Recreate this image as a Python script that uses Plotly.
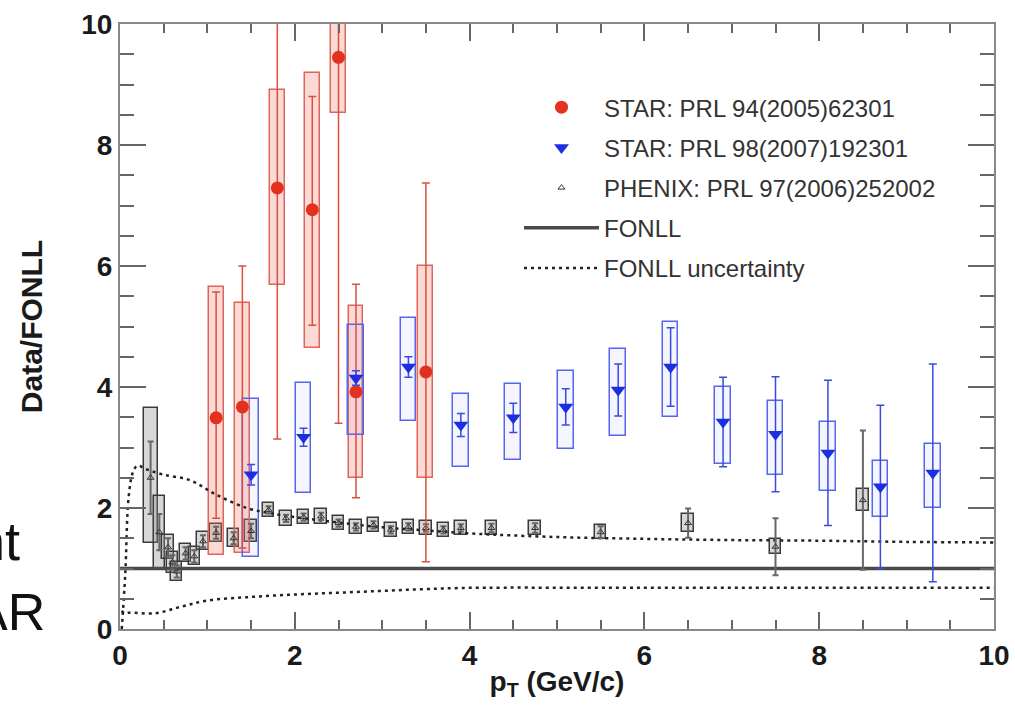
import plotly.graph_objects as go

# ---------------- data ----------------
# STAR PRL 94 (2005) 62301
star05_pt = [1.1, 1.4, 1.8, 2.2, 2.5, 2.7, 3.5]
star05_r = [3.49, 3.67, 7.29, 6.93, 9.45, 3.92, 4.25]
star05_stat_hi = [2.08, 2.33, 4.20, 1.87, 6.00, 1.78, 3.12]
star05_stat_lo = [1.66, 2.33, 4.15, 1.91, 6.05, 1.75, 3.14]
star05_sys_hi = [2.16, 1.72, 1.62, 2.26, 0.92, 1.42, 1.75]
star05_sys_lo = [2.27, 2.42, 1.60, 2.29, 0.92, 1.42, 1.75]

# STAR PRL 98 (2007) 192301
star07_pt = [1.5, 2.1, 2.7, 3.3, 3.9, 4.5, 5.1, 5.7, 6.3, 6.9, 7.5, 8.1, 8.7, 9.3]
star07_r = [2.55, 3.17, 4.15, 4.33, 3.37, 3.49, 3.67, 3.95, 4.33, 3.42, 3.22, 2.91, 2.35, 2.58]
star07_stat = [0.17, 0.15, 0.12, 0.17, 0.19, 0.24, 0.30, 0.43, 0.65, 0.74, 0.95, 1.20, 1.35, 1.80]
star07_sys_hi = [1.25, 0.90, 0.87, 0.81, 0.51, 0.56, 0.60, 0.67, 0.74, 0.58, 0.55, 0.51, 0.43, 0.48]
star07_sys_lo = [1.36, 0.92, 0.94, 0.89, 0.69, 0.70, 0.70, 0.76, 0.83, 0.69, 0.67, 0.63, 0.50, 0.58]

# PHENIX PRL 97 (2006) 252002
phenix_pt = [0.35, 0.45, 0.55, 0.6, 0.65, 0.75, 0.85, 0.95, 1.1, 1.3, 1.5, 1.7, 1.9, 2.1, 2.3,
             2.5, 2.7, 2.9, 3.1, 3.3, 3.5, 3.7, 3.9, 4.25, 4.75, 5.5, 6.5, 7.5, 8.5]
phenix_r = [2.5, 1.6, 1.35, 1.1, 0.95, 1.25, 1.2, 1.45, 1.59, 1.5, 1.62, 1.97, 1.83, 1.85, 1.86,
            1.75, 1.69, 1.72, 1.64, 1.69, 1.67, 1.64, 1.67, 1.67, 1.67, 1.6, 1.75, 1.36, 2.13]
phenix_stat = [0.6, 0.3, 0.15, 0.12, 0.1, 0.1, 0.1, 0.1, 0.1, 0.1, 0.12, 0.06, 0.06, 0.06, 0.06,
               0.06, 0.06, 0.06, 0.06, 0.06, 0.06, 0.06, 0.06, 0.07, 0.08, 0.1, 0.24, 0.47, 1.15]
phenix_sys_hi = [1.15, 0.6, 0.2, 0.18, 0.15, 0.15, 0.15, 0.15, 0.15, 0.15, 0.18, 0.12, 0.12, 0.12, 0.12,
                 0.12, 0.12, 0.12, 0.12, 0.12, 0.12, 0.12, 0.12, 0.12, 0.12, 0.12, 0.15, 0.12, 0.18]
phenix_sys_lo = [1.08, 0.6, 0.2, 0.18, 0.15, 0.15, 0.15, 0.15, 0.15, 0.15, 0.18, 0.12, 0.12, 0.12, 0.12,
                 0.12, 0.12, 0.12, 0.12, 0.12, 0.12, 0.12, 0.12, 0.12, 0.12, 0.12, 0.15, 0.12, 0.18]

# FONLL central and uncertainty band
fonll_pt = [0.0, 10.0]
fonll_r = [1.0, 1.0]
fonll_up_pt = [0.02, 0.06, 0.1, 0.15, 0.2, 0.3, 0.5, 0.8, 1.1, 1.45, 1.7, 2.0, 2.5, 3.0, 3.5,
               4.0, 5.0, 6.0, 7.0, 8.0, 9.0, 10.0]
fonll_up_r = [0.0, 0.9, 2.2, 2.6, 2.7, 2.64, 2.55, 2.46, 2.22, 2.0, 1.92, 1.85, 1.76, 1.68, 1.63,
              1.58, 1.52, 1.49, 1.47, 1.46, 1.44, 1.43]
fonll_lo_pt = [0.02, 0.05, 0.1, 0.4, 0.7, 1.0, 1.5, 2.0, 2.5, 3.0, 3.5, 4.0, 6.0, 8.0, 10.0]
fonll_lo_r = [0.3, 0.26, 0.27, 0.26, 0.37, 0.47, 0.53, 0.57, 0.6, 0.63, 0.66, 0.68, 0.68, 0.68, 0.68]

x_ticks = [0, 2, 4, 6, 8, 10]
y_ticks = [0, 2, 4, 6, 8, 10]

# ---------------- figure ----------------
FONT = "Liberation Sans, Arial, sans-serif"
fig = go.Figure()


def sys_boxes(pt, r, hi, lo, width, fill, line, group):
    base = [v - l for v, l in zip(r, lo)]
    height = [h + l for h, l in zip(hi, lo)]
    fig.add_trace(go.Bar(x=pt, y=height, base=base, width=width,
                         marker=dict(color=fill, line=dict(color=line, width=1.5)),
                         showlegend=False, legendgroup=group, hoverinfo="skip"))


sys_boxes(phenix_pt, phenix_r, phenix_sys_hi, phenix_sys_lo,
          [0.16 if i == 0 else 0.13 for i in range(len(phenix_pt))],
          "rgba(140,140,140,0.35)", "#3a3a3a", "g3")
sys_boxes(star05_pt, star05_r, star05_sys_hi, star05_sys_lo, 0.17,
          "rgba(240,120,105,0.28)", "#e0645a", "g1")
sys_boxes(star07_pt, star07_r, star07_sys_hi, star07_sys_lo, 0.18,
          "rgba(110,125,255,0.08)", "#5566ee", "g2")

# FONLL curves
fig.add_trace(go.Scatter(x=fonll_pt, y=fonll_r, mode="lines", name="FONLL",
                         line=dict(color="#4a4a4a", width=3.5), legendgroup="g4", legendrank=4))
fig.add_trace(go.Scatter(x=fonll_up_pt, y=fonll_up_r, mode="lines", name="FONLL uncertainty",
                         line=dict(color="#222", width=2.5, dash="3px,4px", shape="spline"),
                         legendgroup="g5", legendrank=5))
fig.add_trace(go.Scatter(x=fonll_lo_pt, y=fonll_lo_r, mode="lines", name="FONLL uncertainty",
                         line=dict(color="#222", width=2.5, dash="3px,4px", shape="spline"),
                         legendgroup="g5", showlegend=False, legendrank=5))

# data points
fig.add_trace(go.Scatter(
    x=phenix_pt, y=phenix_r, mode="markers", name="PHENIX: PRL 97(2006)252002",
    marker=dict(symbol="triangle-up-open", size=6, color="#333", line=dict(width=1)),
    error_y=dict(type="data", array=phenix_stat, color="#666", thickness=2, width=3),
    legendgroup="g3", legendrank=3))
fig.add_trace(go.Scatter(
    x=star05_pt, y=star05_r, mode="markers", name="STAR: PRL 94(2005)62301",
    marker=dict(symbol="circle", size=13, color="#e2321e"),
    error_y=dict(type="data", symmetric=False, array=star05_stat_hi, arrayminus=star05_stat_lo,
                 color="#d9503f", thickness=1.5, width=4),
    legendgroup="g1", legendrank=1))
fig.add_trace(go.Scatter(
    x=star07_pt, y=star07_r, mode="markers", name="STAR: PRL 98(2007)192301",
    marker=dict(symbol="triangle-down", size=13, color="#1b2fe0"),
    error_y=dict(type="data", array=star07_stat, color="#3a4ae0", thickness=1.5, width=4),
    legendgroup="g2", legendrank=2))

tick_font = dict(family=FONT, size=28, color="#1a1a1a", weight="bold")
axis_common = dict(range=[0, 10], showgrid=False, zeroline=False, showline=True,
                   linecolor="#888", linewidth=2, mirror="ticks", ticks="inside",
                   tickwidth=2, tickcolor="#666", tickfont=tick_font)

fig.update_layout(
    width=1015, height=705,
    margin=dict(l=120, r=21, t=24, b=76, autoexpand=False),
    paper_bgcolor="white", plot_bgcolor="white",
    barmode="overlay", bargap=0,
    font=dict(family=FONT, color="#222"),
    xaxis=dict(**axis_common, tickvals=x_ticks, ticklen=17,
               minor=dict(dtick=0.5, ticklen=9, tickwidth=2, tickcolor="#666", ticks="inside"),
               title=dict(text="p<sub>T</sub> (GeV/c)", standoff=2,
                          font=dict(family=FONT, size=28, color="#1a1a1a", weight="bold"))),
    yaxis=dict(**axis_common, tickvals=y_ticks, ticklen=26,
               minor=dict(dtick=0.5, ticklen=14, tickwidth=2, tickcolor="#666", ticks="inside"),
               title=dict(text="Data/FONLL", standoff=30,
                          font=dict(family=FONT, size=30, color="#1a1a1a", weight="bold"))),
    legend=dict(x=(519 - 120) / 874, xanchor="left", y=0.899, yanchor="top",
                bgcolor="rgba(0,0,0,0)", borderwidth=0, itemwidth=75,
                font=dict(family=FONT, size=24, color="#333"),
                tracegroupgap=6, traceorder="grouped"),
)

# cropped slide text at the left edge
fig.add_annotation(text="nt", xref="paper", yref="paper", x=(22 - 120) / 874, y=(629 - 573) / 605,
                   xanchor="right", yanchor="bottom", showarrow=False,
                   font=dict(family=FONT, size=54, color="#111"))
fig.add_annotation(text="AR", xref="paper", yref="paper", x=(47 - 120) / 874, y=(629 - 643) / 605,
                   xanchor="right", yanchor="bottom", showarrow=False,
                   font=dict(family=FONT, size=52, color="#111"))

fig.write_html("out.html")
